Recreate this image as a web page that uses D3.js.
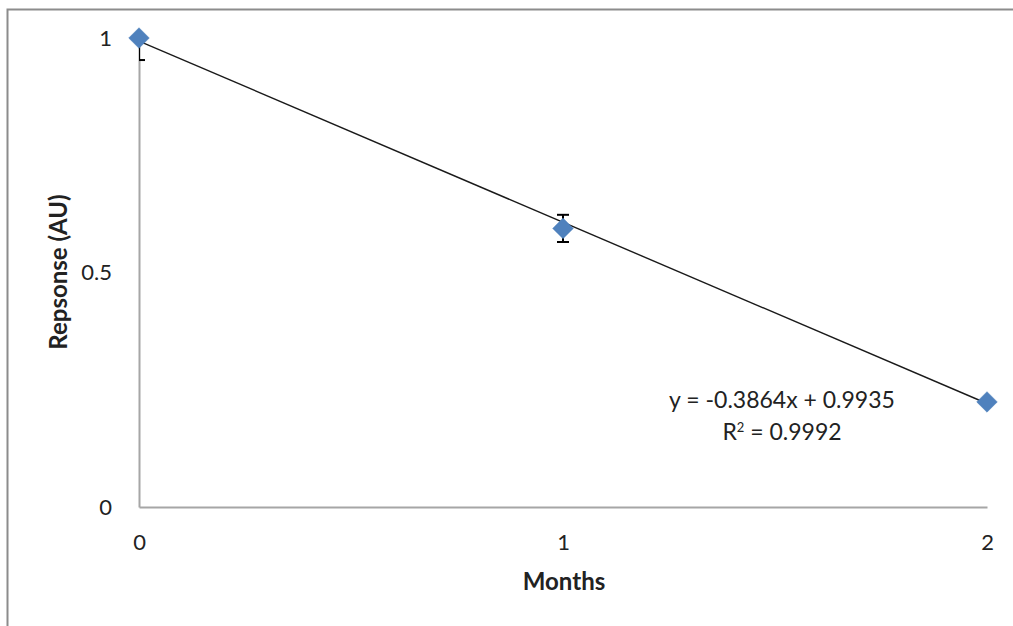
<!DOCTYPE html>
<html>
<head>
<meta charset="utf-8">
<script src="https://cdn.jsdelivr.net/npm/d3@7"></script>
<style>
  body { margin: 0; background: #fff; }
  #chart { width: 1013px; height: 626px; }
  text { font-family: Lato, "Open Sans", sans-serif; fill: #222; }
</style>
</head>
<body>
<div id="chart"></div>
<script>
// months vs response, three samples
const months = [0, 1, 2];
const response = [1.0, 0.594, 0.224];
const errors = [0.047, 0.029, 0.0];
const xTicks = [0, 1, 2];
const yTicks = [0, 0.5, 1];
const fit = { slope: -0.3864, intercept: 0.9935, r2: 0.9992 };

const margin = { left: 139, right: 26, top: 38, bottom: 119 };
const outerWidth = 1013, outerHeight = 626;
const width = outerWidth - margin.left - margin.right;
const height = outerHeight - margin.top - margin.bottom;

const svg = d3.select("#chart").append("svg")
  .attr("width", outerWidth)
  .attr("height", outerHeight);

// chart border
svg.append("rect")
  .attr("x", 7.5).attr("y", 9.5)
  .attr("width", outerWidth + 10).attr("height", outerHeight + 10)
  .attr("fill", "none")
  .attr("stroke", "#8c8c8c")
  .attr("stroke-width", 2);

const plot = svg.append("g")
  .attr("transform", `translate(${margin.left}, ${margin.top})`);

const xScale = d3.scaleLinear().domain([0, 2]).range([0, width]);
const yScale = d3.scaleLinear().domain([0, 1]).range([height, 0]);

// axes
const xAxis = d3.axisBottom(xScale).tickValues(xTicks).tickSize(0).tickPadding(27).tickFormat(d3.format("d"));
const yAxis = d3.axisLeft(yScale).tickValues(yTicks).tickSize(0).tickPadding(27).tickFormat(d => d);

const gx = plot.append("g")
  .attr("transform", `translate(0, ${height})`)
  .call(xAxis);
const gy = plot.append("g").call(yAxis);

[gx, gy].forEach(g => {
  g.select(".domain").attr("stroke", "#a6a6a6").attr("stroke-width", 2);
  g.selectAll("text").style("font-size", "22px").attr("fill", "#222");
});

// clip so error bars stay inside plot
plot.append("clipPath").attr("id", "clip")
  .append("rect").attr("width", width).attr("height", height);

// trendline
plot.append("line")
  .attr("x1", xScale(0)).attr("y1", yScale(fit.intercept))
  .attr("x2", xScale(2)).attr("y2", yScale(fit.intercept + fit.slope * 2))
  .attr("stroke", "#1a1a1a").attr("stroke-width", 1.4);

// error bars
const eb = plot.append("g").attr("clip-path", "url(#clip)")
  .selectAll("g")
  .data(months.map((m, i) => ({ x: m, y: response[i], e: errors[i] })).filter(d => d.e > 0))
  .enter().append("g")
  .attr("stroke", "#000").attr("stroke-width", 2);
eb.append("line")
  .attr("x1", d => xScale(d.x)).attr("x2", d => xScale(d.x))
  .attr("y1", d => yScale(d.y + d.e)).attr("y2", d => yScale(d.y - d.e));
eb.append("line")
  .attr("x1", d => xScale(d.x) - 6).attr("x2", d => xScale(d.x) + 6)
  .attr("y1", d => yScale(d.y + d.e)).attr("y2", d => yScale(d.y + d.e));
eb.append("line")
  .attr("x1", d => xScale(d.x) - 6).attr("x2", d => xScale(d.x) + 6)
  .attr("y1", d => yScale(d.y - d.e)).attr("y2", d => yScale(d.y - d.e));

// markers
plot.selectAll("path.pt")
  .data(months)
  .enter().append("path")
  .attr("class", "pt")
  .attr("d", d3.symbol().type(d3.symbolDiamond2).size(270))
  .attr("transform", (d, i) => `translate(${xScale(d)}, ${yScale(response[i])})`)
  .attr("fill", "#4f81bd")
  .attr("stroke", "#4a7ebb")
  .attr("stroke-width", 0.5);

// equation label
const eq = plot.append("text")
  .attr("x", 643).attr("y", 370)
  .attr("text-anchor", "middle")
  .style("font-size", "23px");
eq.append("tspan").attr("x", 643).text(`y = ${fit.slope}x + ${fit.intercept}`);
const r = eq.append("tspan").attr("x", 643).attr("dy", 32).text("R");
r.append("tspan").attr("baseline-shift", "super").style("font-size", "13px").text("2");
r.append("tspan").text(` = ${fit.r2}`);

// axis titles
svg.append("text")
  .attr("x", 564).attr("y", 590)
  .attr("text-anchor", "middle")
  .style("font-size", "24px").style("font-weight", "bold")
  .text("Months");

svg.append("text")
  .attr("transform", "translate(67, 272) rotate(-90)")
  .attr("text-anchor", "middle")
  .style("font-size", "24px").style("font-weight", "bold")
  .text("Repsonse (AU)");
</script>
</body>
</html>
